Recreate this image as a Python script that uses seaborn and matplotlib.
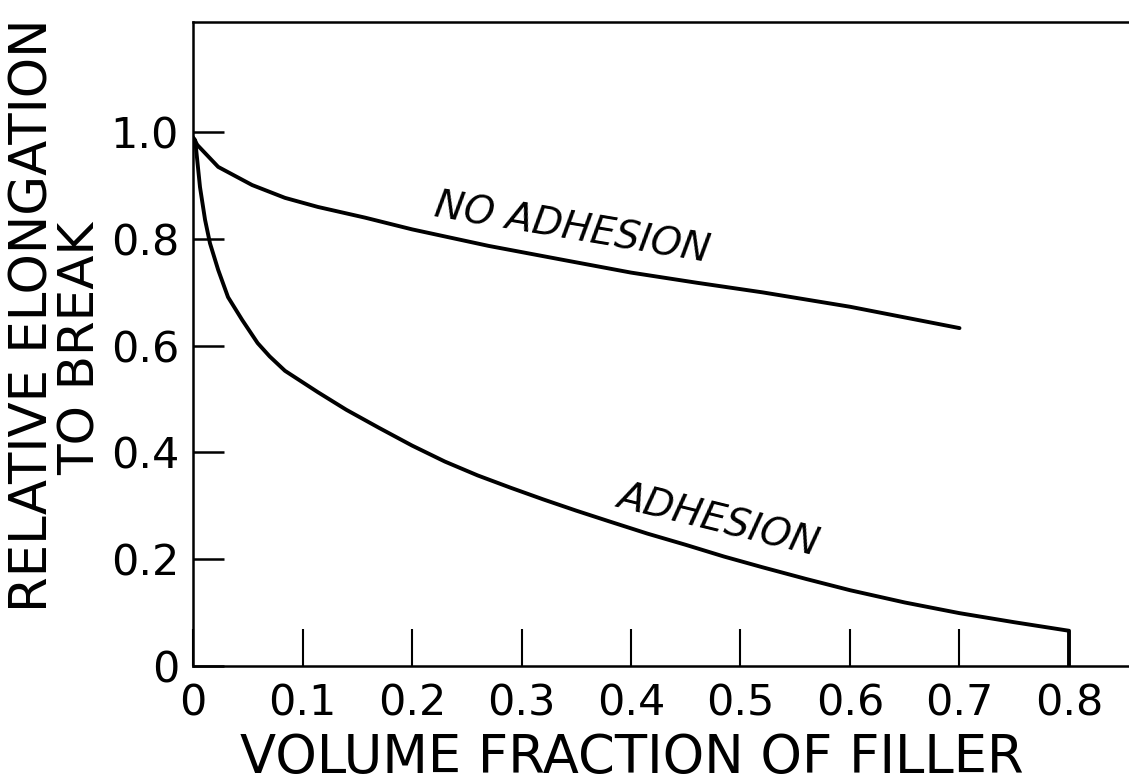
import numpy as np
import pandas as pd
import matplotlib
matplotlib.use("Agg")
import matplotlib.pyplot as plt
import seaborn as sns

# ---- data ----
no_adh_x = [0.0, 0.004, 0.023, 0.054, 0.084, 0.114, 0.157, 0.20, 0.27, 0.34,
            0.40, 0.46, 0.52, 0.60, 0.70]
no_adh_y = [0.99, 0.976, 0.935, 0.901, 0.877, 0.860, 0.840, 0.818, 0.787, 0.760,
            0.737, 0.718, 0.700, 0.673, 0.633]

adh_x = [0.0, 0.002, 0.0064, 0.011, 0.0155, 0.023, 0.032, 0.045, 0.059, 0.07, 0.084,
         0.114, 0.14, 0.17, 0.20, 0.23, 0.26, 0.29, 0.32, 0.35, 0.38, 0.415,
         0.45, 0.485, 0.52, 0.56, 0.60, 0.65, 0.70, 0.75, 0.80, 0.80]
adh_y = [0.99, 0.985, 0.897, 0.836, 0.792, 0.742, 0.691, 0.648, 0.605, 0.580, 0.553,
         0.513, 0.480, 0.446, 0.413, 0.383, 0.357, 0.334, 0.312, 0.291, 0.271, 0.248,
         0.227, 0.205, 0.185, 0.163, 0.142, 0.119, 0.099, 0.082, 0.066, 0.0]

x_ticks = [0, 0.1, 0.2, 0.3, 0.4, 0.5, 0.6, 0.7, 0.8]
x_tick_labels = ["0", "0.1", "0.2", "0.3", "0.4", "0.5", "0.6", "0.7", "0.8"]
y_ticks = [0, 0.2, 0.4, 0.6, 0.8, 1.0]
y_tick_labels = ["0", "0.2", "0.4", "0.6", "0.8", "1.0"]

series_names = ["NO ADHESION", "ADHESION"]

df = pd.concat([
    pd.DataFrame({"x": no_adh_x, "y": no_adh_y, "series": series_names[0]}),
    pd.DataFrame({"x": adh_x, "y": adh_y, "series": series_names[1]}),
], ignore_index=True)

sns.set_theme(style="ticks")
plt.rcParams["font.family"] = ["DejaVu Sans"]

W, H = 1129, 784
fig = plt.figure(figsize=(W / 100, H / 100), dpi=100)
fig.patch.set_facecolor("white")
ax = fig.add_axes([193 / W, 118 / H, (W - 193) / W, (666 - 22) / H])

sns.lineplot(data=df, x="x", y="y", hue="series", units="series",
             palette={series_names[0]: "black", series_names[1]: "black"},
             estimator=None, sort=False, legend=False, linewidth=2.8, ax=ax)
for ln in ax.lines:
    ln.set_solid_joinstyle("round")
    ln.set_solid_capstyle("round")

ax.set_xlim(0, (W - 193) / 1095)
ax.set_ylim(0, (666 - 22) / 533.8)

ax.set_xticks(x_ticks)
ax.set_xticklabels(x_tick_labels)
ax.set_yticks(y_ticks)
ax.set_yticklabels(y_tick_labels)

ax.tick_params(axis="x", direction="in", length=27, width=1.5, pad=12,
               labelsize=31, colors="black")
ax.tick_params(axis="y", direction="in", length=22, width=1.8, pad=10,
               labelsize=31, colors="black")

for s in ["left", "top", "bottom"]:
    ax.spines[s].set_visible(True)
    ax.spines[s].set_linewidth(1.8)
    ax.spines[s].set_color("black")
ax.spines["right"].set_visible(False)

ax.set_xlabel("VOLUME FRACTION OF FILLER", fontsize=38, color="black",
              va="center", ha="center")
ax.xaxis.set_label_coords((632 - 193) / 936, (666 - 758) / 644)

ax.set_ylabel("RELATIVE ELONGATION", fontsize=37, color="black",
              va="center", ha="center")
ax.yaxis.set_label_coords((34 - 193) / 936, (666 - 315) / 644)

ax.text((81 - 193) / 936, (666 - 348) / 644, "TO BREAK", fontsize=36,
        rotation=90, ha="center", va="center", transform=ax.transAxes,
        color="black")

ax.text(0.346, 0.82, series_names[0], fontsize=28, style="italic",
        rotation=-9.5, rotation_mode="anchor", ha="center", va="center",
        color="black")
ax.text(0.479, 0.272, series_names[1], fontsize=28, style="italic",
        rotation=-13.8, rotation_mode="anchor", ha="center", va="center",
        color="black")

fig.savefig("out.png", dpi=100, facecolor="white")
